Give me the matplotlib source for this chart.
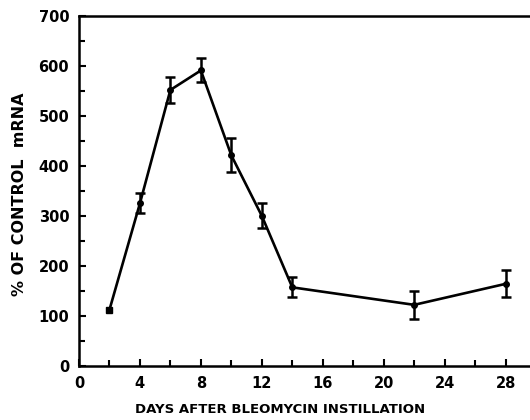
import matplotlib.pyplot as plt
from matplotlib.ticker import MultipleLocator

# data
days = [2, 4, 6, 8, 10, 12, 14, 22, 28]
pct_control = [112, 325, 552, 591, 421, 300, 157, 122, 164]
sem = [0, 20, 26, 24, 34, 25, 20, 28, 27]

fig = plt.figure(figsize=(5.3, 4.2), dpi=100)
ax = fig.add_axes([0.149, 0.129, 0.851, 0.833])

ax.plot(days, pct_control, color="black", lw=1.9, zorder=2)
ax.errorbar(days[1:], pct_control[1:], yerr=sem[1:], fmt="o", color="black",
            ms=4, capsize=3.5, capthick=1.8, elinewidth=1.8, zorder=3)
ax.plot(days[:1], pct_control[:1], "s", color="black", ms=4, zorder=3)

ax.set_xlim(0, 29.6)
ax.set_ylim(0, 700)
ax.xaxis.set_major_locator(MultipleLocator(4))
ax.xaxis.set_minor_locator(MultipleLocator(2))
ax.yaxis.set_major_locator(MultipleLocator(100))
ax.yaxis.set_minor_locator(MultipleLocator(50))
ax.tick_params(which="both", direction="in", width=1.5, top=False, right=False,
               labelsize=10.5)
ax.tick_params(which="major", length=5, pad=7)
ax.tick_params(which="minor", length=4)
for lab in ax.get_xticklabels() + ax.get_yticklabels():
    lab.set_fontweight("bold")

ax.spines["right"].set_visible(False)
for s in ("left", "bottom", "top"):
    ax.spines[s].set_linewidth(1.8)

ax.set_xlabel("DAYS AFTER BLEOMYCIN INSTILLATION", fontsize=9.5,
              fontweight="bold", va="center")
ax.xaxis.set_label_coords(0.446, -0.126)
ax.set_ylabel("% OF CONTROL  mRNA", fontsize=11.5, fontweight="bold", va="center")
ax.yaxis.set_label_coords(-0.131, 0.489)

fig.savefig("out.png", dpi=100, facecolor="white")
